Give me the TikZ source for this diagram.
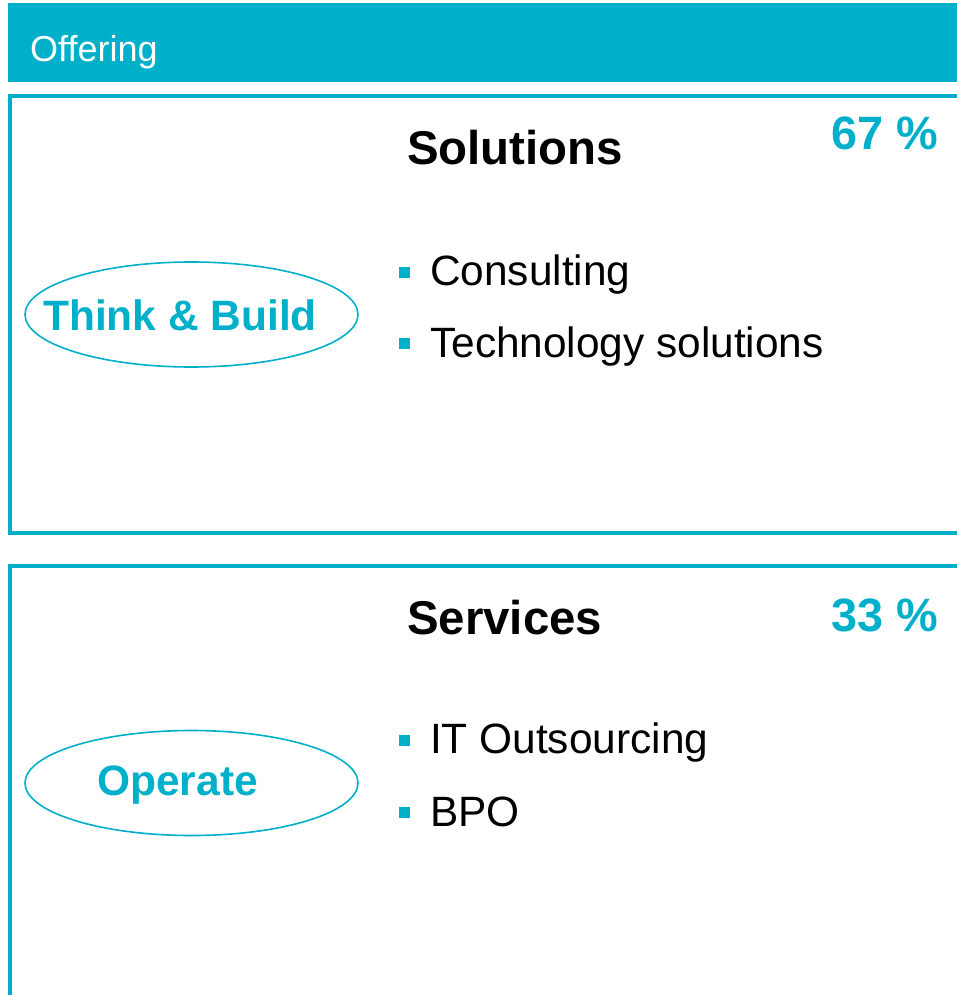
\documentclass[tikz,border=0pt]{standalone}
\usepackage{fontspec}
\setmainfont{Liberation Sans}
\usetikzlibrary{shapes.geometric}
\definecolor{teal1}{RGB}{0,176,202}
\tikzset{
  frame/.style={draw=teal1, line width=4pt},
  oval/.style={ellipse, draw=teal1, line width=1.6pt, minimum width=333pt, minimum height=105pt, inner sep=0pt},
  ovaltext/.style={text=teal1, font=\fontsize{42.5}{48}\selectfont\bfseries, anchor=base, inner sep=0pt},
  title/.style={anchor=base west, inner sep=0pt, font=\fontsize{47.4}{54}\selectfont\bfseries},
  pct/.style={anchor=base west, inner sep=0pt, text=teal1, font=\fontsize{46.8}{54}\selectfont\bfseries},
  item/.style={anchor=base west, inner sep=0pt, font=\fontsize{42.4}{48}\selectfont},
  bullet/.style={fill=teal1, minimum size=11pt, inner sep=0pt, draw=none}
}
\begin{document}
\begin{tikzpicture}[x=1pt,y=-1pt]
\useasboundingbox (0,0) rectangle (957,995);
\clip (0,0) rectangle (957,995);
% header
\fill[teal1] (8,3) rectangle (962,82);
\node[anchor=base west, inner sep=0pt, text=white, font=\fontsize{36}{42}\selectfont] (hdr) at (30,62) {Offering};
% frames
\draw[frame] (965,96) -- (10,96) -- (10,533) -- (965,533);
\draw[frame] (965,566) -- (10,566) -- (10,1000);
% top section
\node[oval] (e1) at (191.5,314.5) {};
\node[ovaltext] (t1) at (180,330) {Think \& Build};
\node[title] (s1) at (407,165) {Solutions};
\node[pct] (p1) at (831,150) {67 \%};
\node[bullet] (b1) at (404.5,272) {};
\node[item] (i1) at (430,285) {Consulting};
\node[bullet] (b2) at (404.5,343) {};
\node[item] (i2) at (430,357) {Technology solutions};
% bottom section
\node[oval] (e2) at (191.5,783) {};
\node[ovaltext] (t2) at (177.5,795) {Operate};
\node[title] (s2) at (407,634) {Services};
\node[pct] (p2) at (831,631) {33 \%};
\node[bullet] (b3) at (404.5,740) {};
\node[item] (i3) at (430,753) {IT Outsourcing};
\node[bullet] (b4) at (404.5,812) {};
\node[item] (i4) at (430,826) {BPO};
\end{tikzpicture}
\end{document}
